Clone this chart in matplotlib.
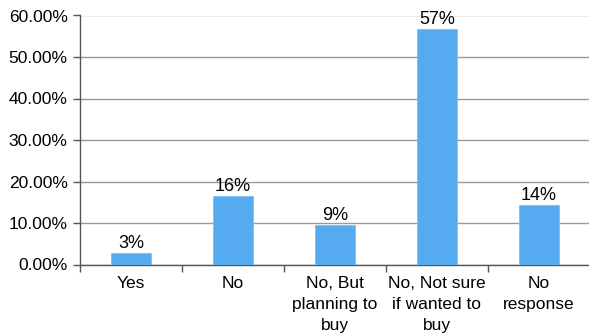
import matplotlib.pyplot as plt
import numpy as np

# Data
categories = ["Yes", "No", "No, But\nplanning to\nbuy", "No, Not sure\nif wanted to\nbuy", "No\nresponse"]
values = [2.8, 16.5, 9.4, 56.7, 14.3]
value_labels = ["3%", "16%", "9%", "57%", "14%"]
yticks = [0, 10, 20, 30, 40, 50, 60]

plt.rcParams["font.family"] = ["Liberation Sans", "DejaVu Sans"]

fig = plt.figure(figsize=(5.89, 3.35), dpi=100)
ax = fig.add_axes([80 / 589, 1 - 264.5 / 335, 510 / 589, (264.5 - 15.5) / 335])

x = np.arange(len(categories))
bars = ax.bar(x, values, width=0.4, color="#55aaf0", edgecolor="#7cc0f5", linewidth=0.6, zorder=3)

for rect, lab in zip(bars, value_labels):
    ax.text(rect.get_x() + rect.get_width() / 2, rect.get_height() + 0.3, lab,
            ha="center", va="bottom", fontsize=13, zorder=4)

# Axes styling
ax.set_xlim(-0.5, len(categories) - 0.5)
ax.set_ylim(0, 60)
ax.set_yticks(yticks)
ax.set_yticklabels([f"{v:.2f}%" for v in yticks], fontsize=12.5)
ax.set_xticks(x)
ax.set_xticklabels(categories, fontsize=12.5, linespacing=1.52)
ax.set_xticks(np.arange(len(categories) + 1) - 0.5, minor=True)
ax.tick_params(axis="x", which="major", length=0, pad=8)
ax.tick_params(axis="x", which="minor", length=5, color="#555555", width=1)
ax.tick_params(axis="y", length=5, color="#555555", width=1, pad=4)

ax.yaxis.grid(True, color="#999999", linewidth=1, zorder=1)
ax.set_axisbelow(True)
for side in ["top", "right"]:
    ax.spines[side].set_visible(False)
for side in ["left", "bottom"]:
    ax.spines[side].set_color("#555555")
    ax.spines[side].set_linewidth(1)

fig.savefig("out.png", dpi=100)
